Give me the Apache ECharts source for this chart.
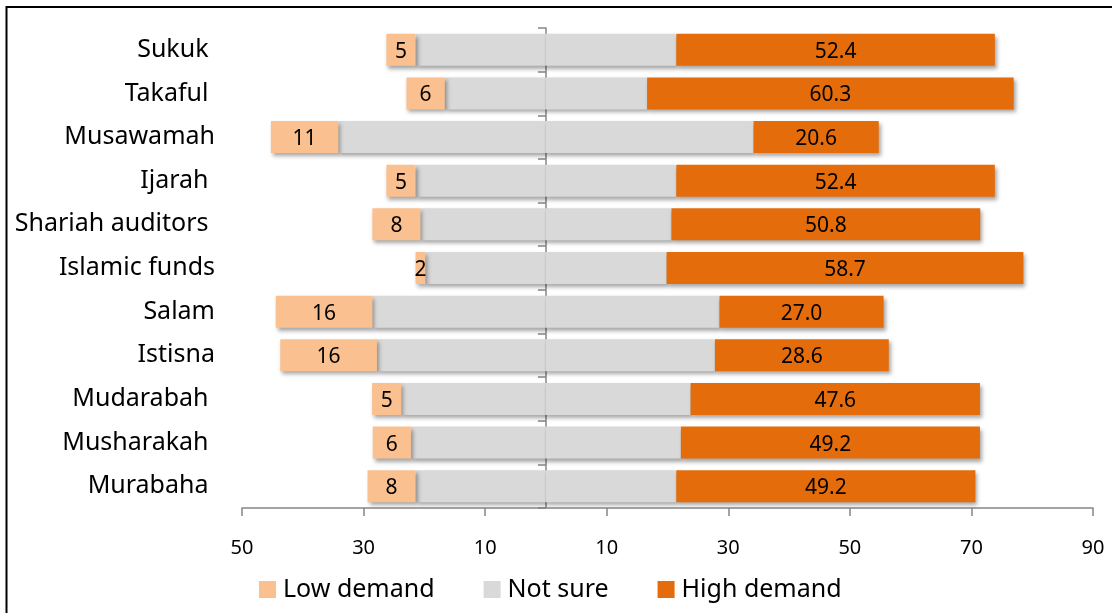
<!DOCTYPE html>
<html>
<head>
<meta charset="utf-8">
<script src="https://cdn.jsdelivr.net/npm/echarts@6/dist/echarts.min.js"></script>
<style>
  html, body { margin: 0; padding: 0; background: #fff; }
  #chart { width: 1112px; height: 613px; }
</style>
</head>
<body>
<div id="chart"></div>
<script>
// some category names carry a trailing space in the source sheet
const categories = ["Sukuk ", "Takaful ", "Musawamah", "Ijarah ", "Shariah auditors ", "Islamic funds",
  "Salam", "Istisna", "Mudarabah ", "Musharakah ", "Murabaha "];
const lowDemand = [4.8, 6.3, 11.1, 4.8, 7.9, 1.6, 15.9, 15.9, 4.8, 6.3, 7.9];
const notSure = [42.9, 33.3, 68.3, 42.9, 41.3, 39.7, 57.1, 55.6, 47.6, 44.4, 42.9];
const highDemand = [52.4, 60.3, 20.6, 52.4, 50.8, 58.7, 27.0, 28.6, 47.6, 49.2, 49.2];
const xTicks = [-50, -30, -10, 10, 30, 50, 70, 90];

const FONT = "'Noto Sans', sans-serif";
const colors = { low: "#FAC08F", unsure: "#D9D9D9", high: "#E46C0A" };

const shadow = {
  shadowColor: "rgba(0,0,0,0.35)",
  shadowBlur: 4,
  shadowOffsetX: 2,
  shadowOffsetY: 3,
};

const chart = echarts.init(document.getElementById("chart"));

const option = {
  animation: false,
  textStyle: { fontFamily: FONT },
  graphic: [
    {
      type: "rect",
      shape: { x: 6.5, y: 7, width: 1200, height: 700 },
      style: { fill: "none", stroke: "#000", lineWidth: 2 },
      silent: true,
      z: 100,
    },
  ],
  grid: { left: 242, right: 19, top: 28, bottom: 105 },
  legend: {
    bottom: 6,
    left: 254,
    itemWidth: 17,
    itemHeight: 17,
    itemGap: 49,
    icon: "rect",
    textStyle: { fontSize: 25, color: "#000", fontFamily: FONT, padding: [0, 0, 0, 2] },
    data: ["Low demand", "Not sure", "High demand"],
  },
  xAxis: {
    type: "value",
    min: -50,
    max: 90,
    interval: 20,
    splitLine: { show: false },
    axisLine: { show: true, lineStyle: { color: "#868686", width: 1.5 } },
    axisTick: { show: true, length: 8, lineStyle: { color: "#868686", width: 1.5 } },
    axisLabel: {
      margin: 30,
      fontSize: 20,
      color: "#000",
      formatter: (v) => (xTicks.includes(v) ? String(Math.abs(v)) : ""),
    },
  },
  yAxis: [
    {
      type: "category",
      inverse: true,
      data: categories,
      position: "left",
      axisLine: { show: false, onZero: false },
      axisTick: { show: false },
      axisLabel: { margin: 27, fontSize: 25, color: "#000" },
    },
    {
      type: "category",
      inverse: true,
      data: categories,
      position: "left",
      axisLine: { show: true, onZero: true, lineStyle: { color: "#868686", width: 1.5 } },
      axisTick: { show: true, length: 8, lineStyle: { color: "#868686", width: 1.5 } },
      axisLabel: { show: false },
    },
  ],
  series: [
    {
      name: "Not sure",
      type: "bar",
      stack: "total",
      barWidth: 32,
      itemStyle: Object.assign({ color: colors.unsure }, shadow),
      data: notSure.map((v) => -v / 2),
    },
    {
      name: "Not sure",
      type: "bar",
      stack: "total",
      barWidth: 32,
      itemStyle: Object.assign({ color: colors.unsure }, shadow),
      data: notSure.map((v) => v / 2),
    },
    {
      name: "Low demand",
      type: "bar",
      stack: "total",
      barWidth: 32,
      itemStyle: Object.assign({ color: colors.low }, shadow),
      label: {
        show: true,
        position: "inside",
        fontSize: 21,
        color: "#000",
        offset: [0, 2],
        formatter: (p) => String(Math.round(-p.value)),
      },
      data: lowDemand.map((v) => -v),
    },
    {
      name: "High demand",
      type: "bar",
      stack: "total",
      barWidth: 32,
      itemStyle: Object.assign({ color: colors.high }, shadow),
      label: {
        show: true,
        position: "inside",
        fontSize: 21,
        color: "#000",
        offset: [0, 2],
        formatter: (p) => p.value.toFixed(1),
      },
      data: highDemand,
    },
  ],
};

chart.setOption(option);
</script>
</body>
</html>
